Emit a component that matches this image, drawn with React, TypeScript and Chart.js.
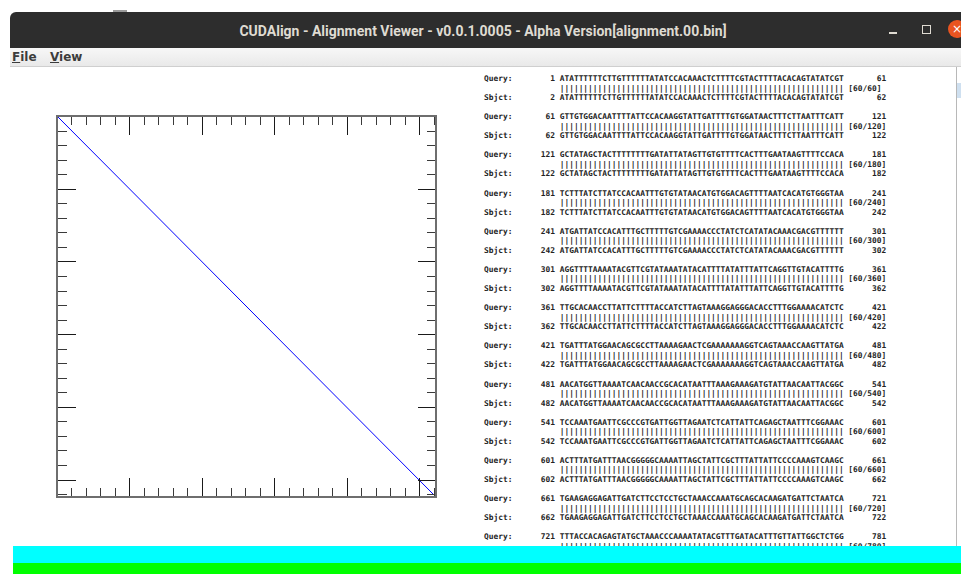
import React, { useEffect, useRef } from "react";
import { Chart, registerables } from "chart.js";

Chart.register(...registerables);

// ---- dot plot data (axis units = tick intervals) ----
const X_MAX = 26.14;
const Y_MAX = 26.2;
const TICK_VALUES = [1, 2, 3, 4, 5, 6, 7, 8, 9, 10, 11, 12, 13, 14, 15, 16, 17, 18, 19, 20, 21, 22, 23, 24, 25, 26];
const MAJOR_TICKS = [5, 10, 15, 20, 25];
const LINE_X = [0, 26.14];
const LINE_Y = [0, 26.2];

// ---- alignment text ----
const QUERY_STARTS = [1, 61, 121, 181, 241, 301, 361, 421, 481, 541, 601, 661, 721];
const SBJCT_STARTS = [2, 62, 122, 182, 242, 302, 362, 422, 482, 542, 602, 662, 722];
const SEQUENCES = [
  "ATATTTTTTCTTGTTTTTTATATCCACAAACTCTTTTCGTACTTTTACACAGTATATCGT",
  "GTTGTGGACAATTTTATTCCACAAGGTATTGATTTTGTGGATAACTTTCTTAATTTCATT",
  "GCTATAGCTACTTTTTTTTGATATTATAGTTGTGTTTTCACTTTGAATAAGTTTTCCACA",
  "TCTTTATCTTATCCACAATTTGTGTATAACATGTGGACAGTTTTAATCACATGTGGGTAA",
  "ATGATTATCCACATTTGCTTTTTGTCGAAAACCCTATCTCATATACAAACGACGTTTTTT",
  "AGGTTTTAAAATACGTTCGTATAAATATACATTTTATATTTATTCAGGTTGTACATTTTG",
  "TTGCACAACCTTATTCTTTTACCATCTTAGTAAAGGAGGGACACCTTTGGAAAACATCTC",
  "TGATTTATGGAACAGCGCCTTAAAAGAACTCGAAAAAAAGGTCAGTAAACCAAGTTATGA",
  "AACATGGTTAAAATCAACAACCGCACATAATTTAAAGAAAGATGTATTAACAATTACGGC",
  "TCCAAATGAATTCGCCCGTGATTGGTTAGAATCTCATTATTCAGAGCTAATTTCGGAAAC",
  "ACTTTATGATTTAACGGGGGCAAAATTAGCTATTCGCTTTATTATTCCCCAAAGTCAAGC",
  "TGAAGAGGAGATTGATCTTCCTCCTGCTAAACCAAATGCAGCACAAGATGATTCTAATCA",
  "TTTACCACAGAGTATGCTAAACCCAAAATATACGTTTGATACATTTGTTATTGGCTCTGG",
];
const MATCH_COUNTS = [60, 60, 60, 60, 60, 60, 60, 60, 60, 60, 60, 60, 60];

const TITLE = "CUDAlign - Alignment Viewer - v0.0.1.0005 - Alpha Version[alignment.00.bin]";

function buildText(): string {
  const lines: string[] = [];
  SEQUENCES.forEach((seq, i) => {
    const qs = QUERY_STARTS[i];
    const ss = SBJCT_STARTS[i];
    const n = seq.length;
    lines.push("Query:" + String(qs).padStart(9) + " " + seq + String(qs + n).padStart(9));
    lines.push(" ".repeat(16) + "|".repeat(MATCH_COUNTS[i]) + " [" + MATCH_COUNTS[i] + "/" + (60 * (i + 1)) + "]");
    lines.push("Sbjct:" + String(ss).padStart(9) + " " + seq + String(ss + n).padStart(9));
    lines.push("");
  });
  return lines.join("\n");
}

const rulerPlugin = {
  id: "ruler",
  afterDatasetsDraw(chart: any) {
    const { ctx, chartArea } = chart;
    const xs = chart.scales.x;
    const ys = chart.scales.y;
    const { left, right, top, bottom } = chartArea;
    ctx.save();
    TICK_VALUES.forEach((v) => {
      const major = MAJOR_TICKS.includes(v);
      const len = major ? 19 : 9;
      ctx.strokeStyle = major ? "#1a1a1a" : "#3a3a3a";
      ctx.lineWidth = 1;
      const x = Math.round(xs.getPixelForValue(v)) + 0.5;
      ctx.beginPath();
      ctx.moveTo(x, top);
      ctx.lineTo(x, top + len);
      ctx.moveTo(x, bottom);
      ctx.lineTo(x, bottom - len);
      ctx.stroke();
      const y = Math.round(ys.getPixelForValue(v)) + 0.5;
      const lenY = major ? 19 : 10;
      ctx.beginPath();
      ctx.moveTo(left, y);
      ctx.lineTo(left + lenY, y);
      ctx.moveTo(right, y);
      ctx.lineTo(right - lenY + 1, y);
      ctx.stroke();
    });
    ctx.strokeStyle = "#6e6e6e";
    ctx.lineWidth = 2;
    ctx.strokeRect(left, top, right - left, bottom - top);
    ctx.restore();
  },
};

function DotPlot() {
  const ref = useRef<HTMLCanvasElement | null>(null);
  useEffect(() => {
    if (!ref.current) return;
    const chart = new Chart(ref.current, {
      type: "scatter",
      data: {
        datasets: [
          {
            data: LINE_X.map((x, i) => ({ x, y: LINE_Y[i] })),
            showLine: true,
            borderColor: "rgb(0,0,255)",
            borderWidth: 1,
            pointRadius: 0,
            fill: false,
          },
        ],
      },
      options: {
        animation: false,
        responsive: false,
        devicePixelRatio: 1,
        layout: { padding: { left: 1, top: 1, right: 1, bottom: 1 } },
        plugins: { legend: { display: false }, tooltip: { enabled: false } },
        scales: {
          x: { type: "linear", min: 0, max: X_MAX, display: false },
          y: { type: "linear", min: 0, max: Y_MAX, reverse: true, display: false },
        },
      },
      plugins: [rulerPlugin],
    });
    return () => chart.destroy();
  }, []);
  return (
    <canvas
      ref={ref}
      width={381}
      height={383}
      style={{ position: "absolute", left: 56, top: 115, width: 381, height: 383 }}
    />
  );
}

export default function App() {
  const abs = (s: React.CSSProperties): React.CSSProperties => ({ position: "absolute", ...s });
  return (
    <div style={abs({ left: 0, top: 0, width: 961, height: 574, overflow: "hidden", background: "#ffffff" })}>
      <div style={abs({ left: 113, top: 10, width: 14, height: 2, background: "#9a9a9a" })} />
      {/* title bar */}
      <div style={abs({ left: 10, top: 12, width: 960, height: 36, background: "#2d2d2d", borderTopLeftRadius: 6 })} />
      <div
        style={abs({
          left: 183, top: 21, width: 600, height: 20, textAlign: "center",
          fontFamily: "Roboto, 'Noto Sans', sans-serif", fontWeight: 700, fontSize: 14, lineHeight: "20px",
          color: "#dfdbd2", whiteSpace: "nowrap",
        })}
      >
        {TITLE}
      </div>
      <div style={abs({ left: 889, top: 32, width: 8, height: 1.5, background: "#dfdbd2" })} />
      <div style={abs({ left: 922, top: 25, width: 7, height: 7, border: "1px solid #dfdbd2" })} />
      <div style={abs({ left: 948, top: 20, width: 18, height: 18, borderRadius: 9, background: "#e95420" })} />
      <div style={abs({ left: 951, top: 20, width: 12, height: 18, color: "#fff", fontFamily: "DejaVu Sans", fontSize: 12, lineHeight: "18px", textAlign: "center" })}>×</div>
      {/* menu bar */}
      <div style={abs({ left: 10, top: 48, width: 960, height: 18, background: "linear-gradient(#f7f7f7, #e9e9e9)", borderBottom: "1px solid #cfcfcf" })} />
      <div style={abs({ left: 12, top: 48, height: 18, fontFamily: "'DejaVu Sans', sans-serif", fontWeight: 700, fontSize: 12, lineHeight: "18px", color: "#3c3c3c", whiteSpace: "nowrap" })}>
        <span style={{ textDecoration: "underline" }}>F</span>ile
      </div>
      <div style={abs({ left: 50, top: 48, height: 18, fontFamily: "'DejaVu Sans', sans-serif", fontWeight: 700, fontSize: 12, lineHeight: "18px", color: "#3c3c3c", whiteSpace: "nowrap" })}>
        <span style={{ textDecoration: "underline" }}>V</span>iew
      </div>

      <DotPlot />

      {/* alignment text panel */}
      <div style={abs({ left: 478, top: 67, width: 483, height: 479, overflow: "hidden" })}>
        <pre
          style={{
            position: "absolute", left: 6, top: 7, margin: 0,
            fontFamily: "'DejaVu Sans Mono', monospace", fontWeight: 700, fontSize: 7.86, lineHeight: "9.54px",
            color: "#222",
          }}
        >
          {buildText()}
        </pre>
        <div style={abs({ left: 478, top: 0, width: 1, height: 479, background: "#b8b8b8" })} />
        <div style={abs({ left: 479, top: 16, width: 4, height: 15, background: "#cfe0f0" })} />
      </div>

      {/* coverage bars */}
      <div style={abs({ left: 13, top: 546, width: 948, height: 17, background: "#00ffff" })} />
      <div style={abs({ left: 13, top: 563, width: 948, height: 11, background: "#00ff00" })} />
    </div>
  );
}
